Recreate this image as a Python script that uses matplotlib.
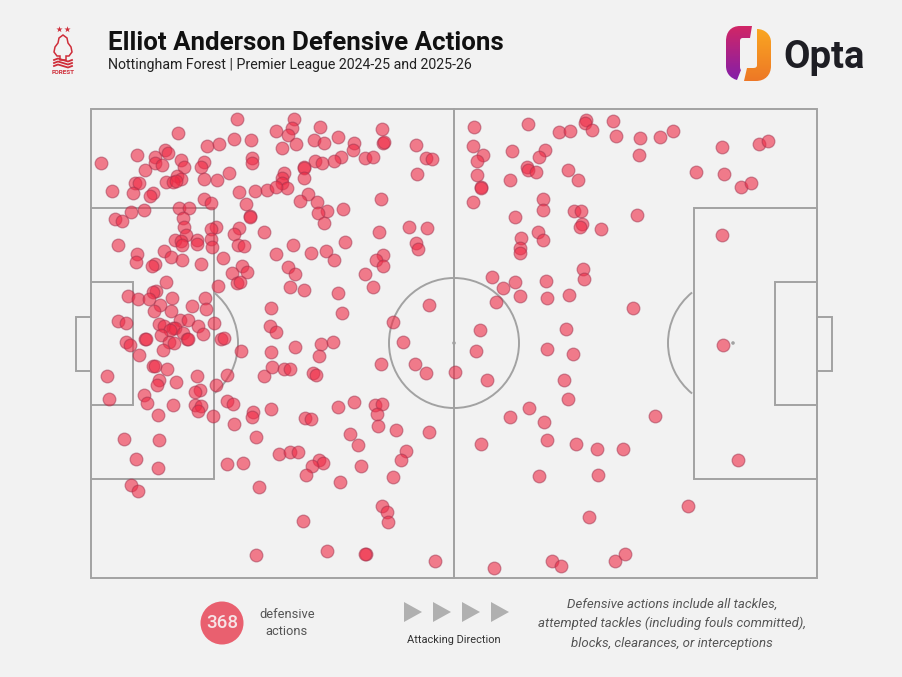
import numpy as np
import matplotlib
matplotlib.use("Agg")
import matplotlib.pyplot as plt
from matplotlib.patches import Rectangle, Arc, Circle, Polygon, PathPatch
from matplotlib.path import Path

TITLE = "Elliot Anderson Defensive Actions"
SUBTITLE = "Nottingham Forest | Premier League 2024-25 and 2025-26"
TOTAL_ACTIONS = "368"
TOTAL_LABEL = "defensive\nactions"
DIRECTION_LABEL = "Attacking Direction"
NOTE_LINES = ["Defensive actions include all tackles,",
              "attempted tackles (including fouls committed),",
              "blocks, clearances, or interceptions"]

# Positions, in picture pixels (x right, y down).
top_left_actions = [
    (237, 119), (178, 133), (234, 139), (251, 140), (207, 146), (219, 144), (101, 163), (137, 155),
    (165, 150), (168, 153), (155, 157), (155, 163), (162, 165), (181, 160), (184, 167), (204, 162),
    (201, 167), (252, 158), (252, 163), (145, 170), (229, 173), (204, 179), (217, 180), (177, 176),
    (181, 179), (166, 182), (173, 182), (176, 181), (135, 183), (139, 183), (112, 191), (133, 193),
    (153, 193), (150, 196), (239, 192), (255, 191), (267, 190), (204, 199), (211, 203), (246, 204),
    (250, 216), (250, 217), (179, 208), (189, 208), (144, 210), (131, 212), (115, 219), (122, 221),
    (183, 218), (184, 227), (216, 227), (211, 229), (239, 228), (234, 234), (264, 232), (186, 235),
    (175, 240), (181, 241), (182, 245), (197, 240), (197, 244), (211, 239), (212, 247), (238, 245),
    (244, 246), (118, 245), (164, 251), (171, 257), (182, 260), (137, 254), (136, 262), (155, 264),
    (152, 266), (201, 264), (223, 258), (242, 266),
]
mid_left_actions = [
    (232, 273), (247, 272), (237, 283), (240, 282), (166, 282), (218, 286), (156, 291), (153, 292),
    (128, 296), (138, 299), (149, 299), (172, 298), (205, 298), (160, 305), (192, 306), (206, 309),
    (154, 311), (171, 311), (118, 321), (126, 323), (159, 324), (164, 326), (180, 320), (188, 320),
    (214, 323), (198, 326), (173, 328), (175, 328), (170, 330), (183, 333), (203, 334), (161, 335),
    (145, 339), (146, 339), (187, 339), (188, 339), (221, 339), (224, 338), (126, 342), (130, 345),
    (169, 342), (174, 343), (163, 350), (241, 351), (139, 355), (153, 366), (155, 366), (167, 369),
    (107, 376), (197, 376), (227, 375), (264, 376), (159, 380), (157, 385), (176, 382), (216, 385),
    (200, 390), (195, 392), (109, 399), (144, 395), (147, 403), (173, 405), (195, 405), (201, 406),
    (198, 411), (227, 401), (233, 404), (158, 415), (213, 416), (253, 412), (252, 417), (234, 424),
]
top_centre_actions = [
    (294, 119), (292, 128), (276, 131), (288, 135), (296, 144), (282, 148), (320, 127), (314, 140),
    (324, 143), (338, 137), (354, 143), (353, 150), (341, 157), (334, 161), (365, 158), (373, 157),
    (382, 129), (383, 143), (384, 142), (416, 145), (426, 158), (432, 159), (417, 174), (315, 161),
    (322, 163), (304, 167), (304, 168), (304, 178), (284, 173), (282, 178), (282, 183), (287, 188),
    (276, 187), (308, 194), (300, 201), (317, 202), (327, 211), (318, 213), (343, 209), (324, 223),
    (381, 199), (409, 227), (427, 228), (379, 232), (416, 243), (418, 249), (293, 245), (276, 254),
    (311, 253), (326, 251), (334, 260), (345, 242), (383, 255), (376, 260), (383, 266),
]
mid_centre_actions = [
    (288, 267), (365, 274), (373, 287), (295, 274), (290, 287), (304, 290), (338, 293), (429, 305),
    (342, 313), (271, 308), (393, 322), (270, 326), (276, 332), (403, 342), (321, 344), (333, 342),
    (295, 347), (271, 352), (319, 356), (272, 367), (284, 369), (290, 369), (381, 364), (415, 364),
    (426, 373), (455, 372), (313, 373), (316, 375), (354, 402), (338, 407), (375, 405), (382, 404),
    (377, 414), (271, 409), (305, 418), (311, 419), (378, 426),
]
low_left_actions = [
    (124, 439), (159, 440), (136, 459), (158, 468), (131, 485), (138, 491), (256, 437), (227, 464),
    (243, 463), (279, 454), (290, 452), (298, 452), (259, 487), (256, 555), (303, 521), (350, 434),
    (396, 430), (429, 432), (358, 445), (406, 451), (401, 460), (319, 460), (323, 463), (312, 466),
    (306, 475), (361, 466), (393, 477), (340, 482), (382, 506), (387, 512), (388, 522), (327, 551),
    (366, 554), (365, 554), (435, 561),
]
right_half_actions = [
    (474, 127), (528, 124), (559, 132), (570, 131), (586, 120), (585, 123), (592, 130), (613, 121),
    (616, 136), (640, 138), (660, 137), (639, 155), (473, 146), (483, 155), (477, 161), (512, 151),
    (545, 150), (539, 157), (477, 175), (481, 187), (481, 188), (473, 202), (527, 167), (528, 170),
    (536, 172), (510, 180), (568, 170), (578, 180), (543, 199), (543, 210), (515, 217), (574, 211),
    (581, 211), (637, 215), (582, 224), (580, 227), (601, 229), (538, 232), (543, 240), (521, 238),
    (520, 248), (520, 253), (583, 269), (584, 279), (492, 277), (503, 288), (515, 282), (520, 296),
    (546, 281), (547, 298), (569, 295), (496, 302), (633, 308), (480, 330), (566, 329), (476, 351),
    (547, 349), (573, 354), (487, 380), (564, 380), (568, 399), (529, 408), (510, 417), (544, 422),
    (655, 416), (481, 444), (547, 440), (576, 444), (597, 449), (623, 449), (539, 476), (598, 475),
    (688, 506), (589, 517), (494, 568), (552, 561), (561, 566), (615, 561), (625, 554), (673, 131),
    (722, 147), (759, 144), (768, 141), (696, 172), (724, 174), (741, 187), (751, 183), (722, 235),
    (723, 345), (738, 460),
]

BG = "#f2f2f2"
LINE = "#a2a2a2"
FONT = "Roboto"

fig = plt.figure(figsize=(9.03, 6.77), dpi=100, facecolor=BG)
ax = fig.add_axes([0, 0, 1, 1])
ax.set_xlim(0, 903)
ax.set_ylim(677, 0)
ax.axis("off")


def draw_pitch(ax):
    lw = 1.4
    boxes = [(91, 109, 363, 469), (454, 109, 363, 469),
             (91, 208, 123, 271), (91, 282, 42, 123), (76, 317, 15, 54),
             (694, 208, 123, 271), (775, 282, 42, 123), (817, 317, 15, 54)]
    for x, y, w, h in boxes:
        ax.add_patch(Rectangle((x, y), w, h, fill=False, ec=LINE, lw=lw, zorder=1))
    ax.add_patch(Circle((454, 343), 65, fill=False, ec=LINE, lw=lw, zorder=1))
    # y axis is inverted, so arc angles run clockwise on screen
    ax.add_patch(Arc((173, 343), 130, 130, theta1=-51, theta2=51, ec=LINE, lw=lw, zorder=1))
    ax.add_patch(Arc((733, 343), 130, 130, theta1=129, theta2=231, ec=LINE, lw=lw, zorder=1))
    ax.add_patch(Circle((454, 343), 1.8, fc=LINE, ec="none", zorder=1))
    ax.add_patch(Circle((733, 343), 1.8, fc=LINE, ec="none", zorder=1))


def draw_crest(ax):
    red = "#cf2e3a"
    ax.scatter([59, 67], [28.5, 28.5], marker="*", s=22, color=red, lw=0)
    tree = [(63, 35), (67, 38), (68, 43), (71, 47), (72, 52), (69, 56), (66, 56), (66, 60),
            (60, 60), (60, 56), (57, 56), (54, 52), (55, 47), (58, 43), (59, 38)]
    ax.add_patch(Polygon(tree, closed=True, fill=False, ec=red, lw=1.1))
    for y in [60, 63, 66]:
        ax.plot([54, 58, 63, 68, 72], [y, y - 1.5, y, y + 1.5, y], color=red, lw=1.3)
    ax.text(63, 72, "FOREST", color=red, fontsize=4.6, fontweight="bold", ha="center", va="center",
            family=FONT)


def gradient_shape(ax, verts, codes, c0, c1):
    patch = PathPatch(Path(verts, codes), fc="none", ec="none")
    ax.add_patch(patch)
    t = np.linspace(0, 1, 64)
    col = np.outer(1 - t, c0) + np.outer(t, c1)
    xs = [v[0] for v in verts]
    ys = [v[1] for v in verts]
    im = ax.imshow(col[:, None, :], extent=(min(xs), max(xs), max(ys), min(ys)), aspect="auto", zorder=2)
    im.set_clip_path(patch)


def draw_opta(ax):
    M, L, C, Z = Path.MOVETO, Path.LINETO, Path.CURVE4, Path.CLOSEPOLY
    left = [(752, 26), (740, 26), (731, 26), (726, 32), (726, 41), (726, 66), (726, 73), (730, 78),
            (737, 80), (741, 70), (740, 69), (740, 68), (740, 66), (740, 41), (740, 39), (741, 38),
            (743, 38), (750, 38), (752, 26)]
    left_codes = [M, L, C, C, C, L, C, C, C, L, C, C, C, L, C, C, C, L, Z]
    right = [(757, 29), (765, 29), (771, 35), (771, 42), (771, 66), (771, 75), (765, 81), (756, 81),
             (744, 81), (747, 68), (753, 68), (756, 68), (757, 67), (757, 65), (757, 40), (757, 29)]
    right_codes = [M, C, C, C, L, C, C, C, L, L, L, C, C, C, L, Z]
    gradient_shape(ax, left, left_codes, np.array([0.82, 0.15, 0.40]), np.array([0.52, 0.12, 0.66]))
    gradient_shape(ax, right, right_codes, np.array([0.98, 0.65, 0.13]), np.array([0.93, 0.47, 0.15]))
    ax.set_xlim(0, 903)
    ax.set_ylim(677, 0)
    ax.text(783, 57, "Opta", fontsize=27.5, fontweight="bold", color="#1e1e24", ha="left", va="center",
            family=FONT)


draw_pitch(ax)

groups = [top_left_actions, mid_left_actions, top_centre_actions,
          mid_centre_actions, low_left_actions, right_half_actions]
points = np.array([p for g in groups for p in g])
ax.scatter(points[:, 0], points[:, 1], s=84, facecolor=(0.94, 0.17, 0.27, 0.6),
           edgecolor=(0.62, 0.2, 0.3, 0.5), linewidth=0.9, zorder=3)

draw_crest(ax)
draw_opta(ax)

ax.text(108, 43, TITLE, fontsize=18.6, fontweight="bold", color="#111111", va="center", family=FONT)
ax.text(108, 65, SUBTITLE, fontsize=10.2, color="#222222", va="center", family=FONT)

ax.add_patch(Circle((222, 623), 21.5, fc="#e9606f", ec="none"))
ax.text(222, 623.5, TOTAL_ACTIONS, color="#f6e4e6", fontsize=13.5, fontweight="medium",
        ha="center", va="center", family=FONT)
ax.text(287, 623, TOTAL_LABEL, color="#555555", fontsize=9.3, ha="center", va="center",
        linespacing=1.35, family=FONT)

for x0 in [404, 433, 462, 491]:
    ax.add_patch(Polygon([(x0, 602), (x0, 622), (x0 + 18, 612)], closed=True, fc="#b0b0b0", ec="none"))
ax.text(453.5, 640, DIRECTION_LABEL, color="#333333", fontsize=7.9, ha="center", va="center", family=FONT)

for y, line in zip([604, 623, 643], NOTE_LINES):
    ax.text(672, y, line, color="#555555", fontsize=9.5, style="italic", ha="center", va="center", family=FONT)

fig.savefig("out.png", dpi=100, facecolor=BG)
